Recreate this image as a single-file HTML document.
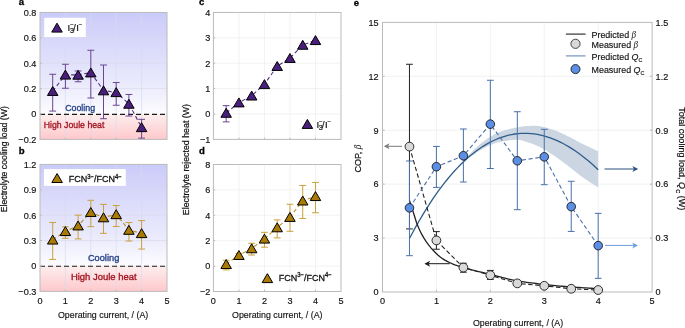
<!DOCTYPE html><html><head><meta charset="utf-8"><style>html,body{margin:0;padding:0;background:#fff;width:685px;height:328px;overflow:hidden}svg{display:block}text{font-family:"Liberation Sans", sans-serif}</style></head><body>
<svg width="685" height="328" viewBox="0 0 685 328" style="will-change:transform">
<defs>
<linearGradient id="ga" x1="0" y1="12.45" x2="0" y2="139.40" gradientUnits="userSpaceOnUse"><stop offset="0" stop-color="#cbcbfa"/><stop offset="0.5760" stop-color="#ebebfc"/><stop offset="0.8000" stop-color="#fcfcff"/><stop offset="0.8000" stop-color="#fdeeee"/><stop offset="1" stop-color="#fec8cc"/></linearGradient>
<linearGradient id="gb" x1="0" y1="164.40" x2="0" y2="291.40" gradientUnits="userSpaceOnUse"><stop offset="0" stop-color="#cbcbfa"/><stop offset="0.5760" stop-color="#ebebfc"/><stop offset="0.8000" stop-color="#fcfcff"/><stop offset="0.8000" stop-color="#fdeeee"/><stop offset="1" stop-color="#fec8cc"/></linearGradient>
</defs>
<rect x="40.00" y="12.45" width="127.00" height="126.95" fill="url(#ga)"/>
<line x1="65.40" y1="12.45" x2="65.40" y2="139.40" stroke="#dadaee" stroke-width="0.7"/>
<line x1="90.80" y1="12.45" x2="90.80" y2="139.40" stroke="#dadaee" stroke-width="0.7"/>
<line x1="116.20" y1="12.45" x2="116.20" y2="139.40" stroke="#dadaee" stroke-width="0.7"/>
<line x1="141.60" y1="12.45" x2="141.60" y2="139.40" stroke="#dadaee" stroke-width="0.7"/>
<line x1="40.00" y1="37.84" x2="167.00" y2="37.84" stroke="#dadaee" stroke-width="0.7"/>
<line x1="40.00" y1="63.23" x2="167.00" y2="63.23" stroke="#dadaee" stroke-width="0.7"/>
<line x1="40.00" y1="88.62" x2="167.00" y2="88.62" stroke="#dadaee" stroke-width="0.7"/>
<line x1="40.00" y1="114.4" x2="166.00" y2="114.4" stroke="#1a1a1a" stroke-width="1.1" stroke-dasharray="5 3"/>
<rect x="40.00" y="12.45" width="127.00" height="126.95" fill="none" stroke="#bbbbbb" stroke-width="1"/>
<path d="M65.40 139.40v-1.8M90.80 139.40v-1.8M116.20 139.40v-1.8M141.60 139.40v-1.8M40.00 37.84h1.8M40.00 63.23h1.8M40.00 88.62h1.8M40.00 114.01h1.8" stroke="#bbbbbb" stroke-width="1" fill="none"/>
<path d="M52.70 91.16L65.40 74.78L78.10 74.91L90.80 72.62L103.50 90.52L116.20 92.30L128.90 103.92L141.60 127.34" stroke="#55328a" stroke-width="1.1" stroke-dasharray="4 2.6" fill="none"/>
<path d="M52.70 111.09V74.27M49.30 111.09h6.8M49.30 74.27h6.8" stroke="#6a4592" stroke-width="1" fill="none"/>
<path d="M65.40 88.24V64.25M62.00 88.24h6.8M62.00 64.25h6.8" stroke="#6a4592" stroke-width="1" fill="none"/>
<path d="M78.10 81.76V70.97M74.70 81.76h6.8M74.70 70.97h6.8" stroke="#6a4592" stroke-width="1" fill="none"/>
<path d="M90.80 98.01V50.28M87.40 98.01h6.8M87.40 50.28h6.8" stroke="#6a4592" stroke-width="1" fill="none"/>
<path d="M103.50 118.71V65.01M100.10 118.71h6.8M100.10 65.01h6.8" stroke="#6a4592" stroke-width="1" fill="none"/>
<path d="M116.20 105.25V82.53M112.80 105.25h6.8M112.80 82.53h6.8" stroke="#6a4592" stroke-width="1" fill="none"/>
<path d="M128.90 116.04V94.46M125.50 116.04h6.8M125.50 94.46h6.8" stroke="#6a4592" stroke-width="1" fill="none"/>
<path d="M141.60 138.13V119.34M138.20 138.13h6.8M138.20 119.34h6.8" stroke="#6a4592" stroke-width="1" fill="none"/>
<path d="M52.70 86.51L57.95 95.46L47.45 95.46Z" fill="#4a1f7c" stroke="#000" stroke-width="1" stroke-linejoin="miter"/>
<path d="M65.40 70.13L70.65 79.08L60.15 79.08Z" fill="#4a1f7c" stroke="#000" stroke-width="1" stroke-linejoin="miter"/>
<path d="M78.10 70.26L83.35 79.21L72.85 79.21Z" fill="#4a1f7c" stroke="#000" stroke-width="1" stroke-linejoin="miter"/>
<path d="M90.80 67.97L96.05 76.92L85.55 76.92Z" fill="#4a1f7c" stroke="#000" stroke-width="1" stroke-linejoin="miter"/>
<path d="M103.50 85.87L108.75 94.82L98.25 94.82Z" fill="#4a1f7c" stroke="#000" stroke-width="1" stroke-linejoin="miter"/>
<path d="M116.20 87.65L121.45 96.60L110.95 96.60Z" fill="#4a1f7c" stroke="#000" stroke-width="1" stroke-linejoin="miter"/>
<path d="M128.90 99.27L134.15 108.22L123.65 108.22Z" fill="#4a1f7c" stroke="#000" stroke-width="1" stroke-linejoin="miter"/>
<path d="M141.60 122.69L146.85 131.64L136.35 131.64Z" fill="#4a1f7c" stroke="#000" stroke-width="1" stroke-linejoin="miter"/>
<rect x="40.00" y="164.40" width="127.00" height="127.00" fill="url(#gb)"/>
<line x1="65.40" y1="164.40" x2="65.40" y2="291.40" stroke="#dadaee" stroke-width="0.7"/>
<line x1="90.80" y1="164.40" x2="90.80" y2="291.40" stroke="#dadaee" stroke-width="0.7"/>
<line x1="116.20" y1="164.40" x2="116.20" y2="291.40" stroke="#dadaee" stroke-width="0.7"/>
<line x1="141.60" y1="164.40" x2="141.60" y2="291.40" stroke="#dadaee" stroke-width="0.7"/>
<line x1="40.00" y1="189.80" x2="167.00" y2="189.80" stroke="#dadaee" stroke-width="0.7"/>
<line x1="40.00" y1="215.20" x2="167.00" y2="215.20" stroke="#dadaee" stroke-width="0.7"/>
<line x1="40.00" y1="240.60" x2="167.00" y2="240.60" stroke="#dadaee" stroke-width="0.7"/>
<line x1="40.00" y1="266.2" x2="166.00" y2="266.2" stroke="#1a1a1a" stroke-width="1.1" stroke-dasharray="5 3"/>
<rect x="40.00" y="164.40" width="127.00" height="127.00" fill="none" stroke="#bbbbbb" stroke-width="1"/>
<path d="M65.40 291.40v-1.8M90.80 291.40v-1.8M116.20 291.40v-1.8M141.60 291.40v-1.8M40.00 189.80h1.8M40.00 215.20h1.8M40.00 240.60h1.8M40.00 266.00h1.8" stroke="#bbbbbb" stroke-width="1" fill="none"/>
<path d="M52.70 239.75L65.40 231.29L78.10 225.61L90.80 212.15L103.50 217.49L116.20 214.35L128.90 230.02L141.60 233.32" stroke="#bb9228" stroke-width="1.1" stroke-dasharray="4 2.6" fill="none"/>
<path d="M52.70 259.40V222.48M49.30 259.40h6.8M49.30 222.48h6.8" stroke="#c9a13c" stroke-width="1" fill="none"/>
<path d="M65.40 238.31V226.80M62.00 238.31h6.8M62.00 226.80h6.8" stroke="#c9a13c" stroke-width="1" fill="none"/>
<path d="M78.10 238.91V215.12M74.70 238.91h6.8M74.70 215.12h6.8" stroke="#c9a13c" stroke-width="1" fill="none"/>
<path d="M90.80 226.63V200.30M87.40 226.63h6.8M87.40 200.30h6.8" stroke="#c9a13c" stroke-width="1" fill="none"/>
<path d="M103.50 233.32V204.36M100.10 233.32h6.8M100.10 204.36h6.8" stroke="#c9a13c" stroke-width="1" fill="none"/>
<path d="M116.20 226.55V205.55M112.80 226.55h6.8M112.80 205.55h6.8" stroke="#c9a13c" stroke-width="1" fill="none"/>
<path d="M128.90 241.02V222.48M125.50 241.02h6.8M125.50 222.48h6.8" stroke="#c9a13c" stroke-width="1" fill="none"/>
<path d="M141.60 249.07V220.62M138.20 249.07h6.8M138.20 220.62h6.8" stroke="#c9a13c" stroke-width="1" fill="none"/>
<path d="M52.70 235.10L57.95 244.05L47.45 244.05Z" fill="#a97a06" stroke="#000" stroke-width="1" stroke-linejoin="miter"/>
<path d="M65.40 226.64L70.65 235.59L60.15 235.59Z" fill="#a97a06" stroke="#000" stroke-width="1" stroke-linejoin="miter"/>
<path d="M78.10 220.96L83.35 229.91L72.85 229.91Z" fill="#a97a06" stroke="#000" stroke-width="1" stroke-linejoin="miter"/>
<path d="M90.80 207.50L96.05 216.45L85.55 216.45Z" fill="#a97a06" stroke="#000" stroke-width="1" stroke-linejoin="miter"/>
<path d="M103.50 212.84L108.75 221.79L98.25 221.79Z" fill="#a97a06" stroke="#000" stroke-width="1" stroke-linejoin="miter"/>
<path d="M116.20 209.70L121.45 218.65L110.95 218.65Z" fill="#a97a06" stroke="#000" stroke-width="1" stroke-linejoin="miter"/>
<path d="M128.90 225.37L134.15 234.32L123.65 234.32Z" fill="#a97a06" stroke="#000" stroke-width="1" stroke-linejoin="miter"/>
<path d="M141.60 228.67L146.85 237.62L136.35 237.62Z" fill="#a97a06" stroke="#000" stroke-width="1" stroke-linejoin="miter"/>
<rect x="213.40" y="12.45" width="127.60" height="126.95" fill="#fff"/>
<line x1="238.92" y1="12.45" x2="238.92" y2="139.40" stroke="#ececec" stroke-width="0.7"/>
<line x1="264.44" y1="12.45" x2="264.44" y2="139.40" stroke="#ececec" stroke-width="0.7"/>
<line x1="289.96" y1="12.45" x2="289.96" y2="139.40" stroke="#ececec" stroke-width="0.7"/>
<line x1="315.48" y1="12.45" x2="315.48" y2="139.40" stroke="#ececec" stroke-width="0.7"/>
<line x1="213.40" y1="37.84" x2="341.00" y2="37.84" stroke="#ececec" stroke-width="0.7"/>
<line x1="213.40" y1="63.23" x2="341.00" y2="63.23" stroke="#ececec" stroke-width="0.7"/>
<line x1="213.40" y1="88.62" x2="341.00" y2="88.62" stroke="#ececec" stroke-width="0.7"/>
<line x1="213.40" y1="114.01" x2="341.00" y2="114.01" stroke="#ececec" stroke-width="0.7"/>
<rect x="213.40" y="12.45" width="127.60" height="126.95" fill="none" stroke="#bbbbbb" stroke-width="1"/>
<path d="M238.92 139.40v-1.8M264.44 139.40v-1.8M289.96 139.40v-1.8M315.48 139.40v-1.8M213.40 37.84h1.8M213.40 63.23h1.8M213.40 88.62h1.8M213.40 114.01h1.8" stroke="#bbbbbb" stroke-width="1" fill="none"/>
<path d="M226.16 112.99L238.92 102.58L251.68 95.73L264.44 84.30L277.20 66.15L289.96 58.15L302.72 44.95L315.48 40.25" stroke="#55328a" stroke-width="1.1" stroke-dasharray="4 2.6" fill="none"/>
<path d="M226.16 121.88V105.63M222.76 121.88h6.8M222.76 105.63h6.8" stroke="#6a4592" stroke-width="1" fill="none"/>
<path d="M226.16 108.34L231.41 117.29L220.91 117.29Z" fill="#4a1f7c" stroke="#000" stroke-width="1" stroke-linejoin="miter"/>
<path d="M238.92 97.93L244.17 106.88L233.67 106.88Z" fill="#4a1f7c" stroke="#000" stroke-width="1" stroke-linejoin="miter"/>
<path d="M251.68 91.08L256.93 100.03L246.43 100.03Z" fill="#4a1f7c" stroke="#000" stroke-width="1" stroke-linejoin="miter"/>
<path d="M264.44 79.65L269.69 88.60L259.19 88.60Z" fill="#4a1f7c" stroke="#000" stroke-width="1" stroke-linejoin="miter"/>
<path d="M277.20 61.50L282.45 70.45L271.95 70.45Z" fill="#4a1f7c" stroke="#000" stroke-width="1" stroke-linejoin="miter"/>
<path d="M289.96 53.50L295.21 62.45L284.71 62.45Z" fill="#4a1f7c" stroke="#000" stroke-width="1" stroke-linejoin="miter"/>
<path d="M302.72 40.30L307.97 49.25L297.47 49.25Z" fill="#4a1f7c" stroke="#000" stroke-width="1" stroke-linejoin="miter"/>
<path d="M315.48 35.60L320.73 44.55L310.23 44.55Z" fill="#4a1f7c" stroke="#000" stroke-width="1" stroke-linejoin="miter"/>
<line x1="238.92" y1="164.50" x2="238.92" y2="291.50" stroke="#ececec" stroke-width="0.7"/>
<line x1="264.44" y1="164.50" x2="264.44" y2="291.50" stroke="#ececec" stroke-width="0.7"/>
<line x1="289.96" y1="164.50" x2="289.96" y2="291.50" stroke="#ececec" stroke-width="0.7"/>
<line x1="315.48" y1="164.50" x2="315.48" y2="291.50" stroke="#ececec" stroke-width="0.7"/>
<line x1="213.40" y1="189.90" x2="341.00" y2="189.90" stroke="#ececec" stroke-width="0.7"/>
<line x1="213.40" y1="215.30" x2="341.00" y2="215.30" stroke="#ececec" stroke-width="0.7"/>
<line x1="213.40" y1="240.70" x2="341.00" y2="240.70" stroke="#ececec" stroke-width="0.7"/>
<line x1="213.40" y1="266.10" x2="341.00" y2="266.10" stroke="#ececec" stroke-width="0.7"/>
<rect x="213.40" y="164.50" width="127.60" height="127.00" fill="none" stroke="#bbbbbb" stroke-width="1"/>
<path d="M238.92 291.50v-1.8M264.44 291.50v-1.8M289.96 291.50v-1.8M315.48 291.50v-1.8M213.40 189.90h1.8M213.40 215.30h1.8M213.40 240.70h1.8M213.40 266.10h1.8" stroke="#bbbbbb" stroke-width="1" fill="none"/>
<path d="M226.16 264.19L238.92 255.18L251.68 248.45L264.44 238.79L277.20 227.49L289.96 217.08L302.72 200.69L315.48 196.25" stroke="#bb9228" stroke-width="1.1" stroke-dasharray="4 2.6" fill="none"/>
<path d="M226.16 269.91V260.26M222.76 269.91h6.8M222.76 260.26h6.8" stroke="#c9a13c" stroke-width="1" fill="none"/>
<path d="M238.92 257.21V253.40M235.52 257.21h6.8M235.52 253.40h6.8" stroke="#c9a13c" stroke-width="1" fill="none"/>
<path d="M251.68 255.05V243.24M248.28 255.05h6.8M248.28 243.24h6.8" stroke="#c9a13c" stroke-width="1" fill="none"/>
<path d="M264.44 247.18V232.32M261.04 247.18h6.8M261.04 232.32h6.8" stroke="#c9a13c" stroke-width="1" fill="none"/>
<path d="M277.20 237.91V219.87M273.80 237.91h6.8M273.80 219.87h6.8" stroke="#c9a13c" stroke-width="1" fill="none"/>
<path d="M289.96 231.30V204.25M286.56 231.30h6.8M286.56 204.25h6.8" stroke="#c9a13c" stroke-width="1" fill="none"/>
<path d="M302.72 218.47V185.45M299.32 218.47h6.8M299.32 185.45h6.8" stroke="#c9a13c" stroke-width="1" fill="none"/>
<path d="M315.48 212.76V182.41M312.08 212.76h6.8M312.08 182.41h6.8" stroke="#c9a13c" stroke-width="1" fill="none"/>
<path d="M226.16 259.55L231.41 268.50L220.91 268.50Z" fill="#a97a06" stroke="#000" stroke-width="1" stroke-linejoin="miter"/>
<path d="M238.92 250.53L244.17 259.48L233.67 259.48Z" fill="#a97a06" stroke="#000" stroke-width="1" stroke-linejoin="miter"/>
<path d="M251.68 243.80L256.93 252.75L246.43 252.75Z" fill="#a97a06" stroke="#000" stroke-width="1" stroke-linejoin="miter"/>
<path d="M264.44 234.14L269.69 243.09L259.19 243.09Z" fill="#a97a06" stroke="#000" stroke-width="1" stroke-linejoin="miter"/>
<path d="M277.20 222.84L282.45 231.79L271.95 231.79Z" fill="#a97a06" stroke="#000" stroke-width="1" stroke-linejoin="miter"/>
<path d="M289.96 212.43L295.21 221.38L284.71 221.38Z" fill="#a97a06" stroke="#000" stroke-width="1" stroke-linejoin="miter"/>
<path d="M302.72 196.04L307.97 205.00L297.47 205.00Z" fill="#a97a06" stroke="#000" stroke-width="1" stroke-linejoin="miter"/>
<path d="M315.48 191.60L320.73 200.55L310.23 200.55Z" fill="#a97a06" stroke="#000" stroke-width="1" stroke-linejoin="miter"/>
<rect x="44.2" y="17.8" width="41.6" height="19.2" fill="#fff"/>
<path d="M57.00 23.15L62.25 32.10L51.75 32.10Z" fill="#4a1f7c" stroke="#000" stroke-width="1" stroke-linejoin="miter"/>
<g transform="translate(67.6,30.6)" fill="#111" stroke="#111" stroke-width="0.2"><text x="0" y="0" font-size="9.6">I</text><text x="2.4" y="2.5" font-size="7.2">3</text><text x="2.7" y="-3.6" font-size="6.2">−</text><text x="5.7" y="0.3" font-size="9.2">/</text><text x="8.6" y="0" font-size="9.6">I</text><text x="11.2" y="-3.6" font-size="6.2">−</text></g>
<rect x="44.0" y="169.1" width="81.8" height="16.8" fill="#fff"/>
<path d="M57.10 173.55L62.35 182.50L51.85 182.50Z" fill="#a97a06" stroke="#000" stroke-width="1" stroke-linejoin="miter"/>
<text transform="translate(68.8,182.4) scale(0.92,1)" font-size="9.8" fill="#111" stroke="#111" stroke-width="0.3">FCN<tspan font-size="6.4" dy="-3.5">3−</tspan><tspan dy="3.5">/FCN</tspan><tspan font-size="6.4" dy="-3.5">4−</tspan></text>
<path d="M307.40 119.45L312.65 128.40L302.15 128.40Z" fill="#4a1f7c" stroke="#000" stroke-width="1" stroke-linejoin="miter"/>
<g transform="translate(316.4,127.5)" fill="#111" stroke="#111" stroke-width="0.2"><text x="0" y="0" font-size="9.6">I</text><text x="2.4" y="2.5" font-size="7.2">3</text><text x="2.7" y="-3.6" font-size="6.2">−</text><text x="5.7" y="0.3" font-size="9.2">/</text><text x="8.6" y="0" font-size="9.6">I</text><text x="11.2" y="-3.6" font-size="6.2">−</text></g>
<path d="M267.40 273.65L272.65 282.60L262.15 282.60Z" fill="#a97a06" stroke="#000" stroke-width="1" stroke-linejoin="miter"/>
<text transform="translate(278.8,280.7) scale(0.92,1)" font-size="9.8" fill="#111" stroke="#111" stroke-width="0.3">FCN<tspan font-size="6.4" dy="-3.5">3−</tspan><tspan dy="3.5">/FCN</tspan><tspan font-size="6.4" dy="-3.5">4−</tspan></text>
<text x="65.20" y="110.60" font-size="9.8" text-anchor="start" fill="#1e3c84" stroke="#1e3c84" stroke-width="0.16" textLength="29.9" lengthAdjust="spacingAndGlyphs" stroke-opacity="0.85" style="stroke-width:0.38px">Cooling</text>
<text x="43.70" y="127.90" font-size="9.8" text-anchor="start" fill="#9e0e1a" stroke="#9e0e1a" stroke-width="0.16" textLength="60.7" lengthAdjust="spacingAndGlyphs" stroke-opacity="0.85" style="stroke-width:0.38px">High Joule heat</text>
<text x="87.90" y="261.20" font-size="9.8" text-anchor="start" fill="#1e3c84" stroke="#1e3c84" stroke-width="0.16" textLength="31.4" lengthAdjust="spacingAndGlyphs" stroke-opacity="0.85" style="stroke-width:0.38px">Cooling</text>
<text x="70.90" y="279.90" font-size="9.8" text-anchor="start" fill="#9e0e1a" stroke="#9e0e1a" stroke-width="0.16" textLength="65.8" lengthAdjust="spacingAndGlyphs" stroke-opacity="0.85" style="stroke-width:0.38px">High Joule heat</text>
<text transform="translate(36.30,15.75) scale(0.97,1)" font-size="9.4" text-anchor="end" fill="#111" stroke="#111" stroke-width="0.16" >0.8</text>
<text transform="translate(36.30,41.14) scale(0.97,1)" font-size="9.4" text-anchor="end" fill="#111" stroke="#111" stroke-width="0.16" >0.6</text>
<text transform="translate(36.30,66.53) scale(0.97,1)" font-size="9.4" text-anchor="end" fill="#111" stroke="#111" stroke-width="0.16" >0.4</text>
<text transform="translate(36.30,91.92) scale(0.97,1)" font-size="9.4" text-anchor="end" fill="#111" stroke="#111" stroke-width="0.16" >0.2</text>
<text transform="translate(36.30,117.31) scale(0.97,1)" font-size="9.4" text-anchor="end" fill="#111" stroke="#111" stroke-width="0.16" >0</text>
<text transform="translate(36.30,142.70) scale(0.97,1)" font-size="9.4" text-anchor="end" fill="#111" stroke="#111" stroke-width="0.16" >−0.2</text>
<text transform="translate(36.30,167.70) scale(0.97,1)" font-size="9.4" text-anchor="end" fill="#111" stroke="#111" stroke-width="0.16" >1.2</text>
<text transform="translate(36.30,193.10) scale(0.97,1)" font-size="9.4" text-anchor="end" fill="#111" stroke="#111" stroke-width="0.16" >0.9</text>
<text transform="translate(36.30,218.50) scale(0.97,1)" font-size="9.4" text-anchor="end" fill="#111" stroke="#111" stroke-width="0.16" >0.6</text>
<text transform="translate(36.30,243.90) scale(0.97,1)" font-size="9.4" text-anchor="end" fill="#111" stroke="#111" stroke-width="0.16" >0.3</text>
<text transform="translate(36.30,269.30) scale(0.97,1)" font-size="9.4" text-anchor="end" fill="#111" stroke="#111" stroke-width="0.16" >0</text>
<text transform="translate(36.30,294.70) scale(0.97,1)" font-size="9.4" text-anchor="end" fill="#111" stroke="#111" stroke-width="0.16" >−0.3</text>
<text transform="translate(210.30,15.75) scale(0.97,1)" font-size="9.4" text-anchor="end" fill="#111" stroke="#111" stroke-width="0.16" >4</text>
<text transform="translate(210.30,41.14) scale(0.97,1)" font-size="9.4" text-anchor="end" fill="#111" stroke="#111" stroke-width="0.16" >3</text>
<text transform="translate(210.30,66.53) scale(0.97,1)" font-size="9.4" text-anchor="end" fill="#111" stroke="#111" stroke-width="0.16" >2</text>
<text transform="translate(210.30,91.92) scale(0.97,1)" font-size="9.4" text-anchor="end" fill="#111" stroke="#111" stroke-width="0.16" >1</text>
<text transform="translate(210.30,117.31) scale(0.97,1)" font-size="9.4" text-anchor="end" fill="#111" stroke="#111" stroke-width="0.16" >0</text>
<text transform="translate(210.30,142.70) scale(0.97,1)" font-size="9.4" text-anchor="end" fill="#111" stroke="#111" stroke-width="0.16" >−1</text>
<text transform="translate(210.30,167.80) scale(0.97,1)" font-size="9.4" text-anchor="end" fill="#111" stroke="#111" stroke-width="0.16" >8</text>
<text transform="translate(210.30,193.20) scale(0.97,1)" font-size="9.4" text-anchor="end" fill="#111" stroke="#111" stroke-width="0.16" >6</text>
<text transform="translate(210.30,218.60) scale(0.97,1)" font-size="9.4" text-anchor="end" fill="#111" stroke="#111" stroke-width="0.16" >4</text>
<text transform="translate(210.30,244.00) scale(0.97,1)" font-size="9.4" text-anchor="end" fill="#111" stroke="#111" stroke-width="0.16" >2</text>
<text transform="translate(210.30,269.40) scale(0.97,1)" font-size="9.4" text-anchor="end" fill="#111" stroke="#111" stroke-width="0.16" >0</text>
<text transform="translate(210.30,294.80) scale(0.97,1)" font-size="9.4" text-anchor="end" fill="#111" stroke="#111" stroke-width="0.16" >−2</text>
<text transform="translate(40.00,304.00) scale(0.97,1)" font-size="9.4" text-anchor="middle" fill="#111" stroke="#111" stroke-width="0.16" >0</text>
<text transform="translate(65.40,304.00) scale(0.97,1)" font-size="9.4" text-anchor="middle" fill="#111" stroke="#111" stroke-width="0.16" >1</text>
<text transform="translate(90.80,304.00) scale(0.97,1)" font-size="9.4" text-anchor="middle" fill="#111" stroke="#111" stroke-width="0.16" >2</text>
<text transform="translate(116.20,304.00) scale(0.97,1)" font-size="9.4" text-anchor="middle" fill="#111" stroke="#111" stroke-width="0.16" >3</text>
<text transform="translate(141.60,304.00) scale(0.97,1)" font-size="9.4" text-anchor="middle" fill="#111" stroke="#111" stroke-width="0.16" >4</text>
<text transform="translate(167.00,304.00) scale(0.97,1)" font-size="9.4" text-anchor="middle" fill="#111" stroke="#111" stroke-width="0.16" >5</text>
<text transform="translate(213.40,304.00) scale(0.97,1)" font-size="9.4" text-anchor="middle" fill="#111" stroke="#111" stroke-width="0.16" >0</text>
<text transform="translate(238.92,304.00) scale(0.97,1)" font-size="9.4" text-anchor="middle" fill="#111" stroke="#111" stroke-width="0.16" >1</text>
<text transform="translate(264.44,304.00) scale(0.97,1)" font-size="9.4" text-anchor="middle" fill="#111" stroke="#111" stroke-width="0.16" >2</text>
<text transform="translate(289.96,304.00) scale(0.97,1)" font-size="9.4" text-anchor="middle" fill="#111" stroke="#111" stroke-width="0.16" >3</text>
<text transform="translate(315.48,304.00) scale(0.97,1)" font-size="9.4" text-anchor="middle" fill="#111" stroke="#111" stroke-width="0.16" >4</text>
<text transform="translate(341.00,304.00) scale(0.97,1)" font-size="9.4" text-anchor="middle" fill="#111" stroke="#111" stroke-width="0.16" >5</text>
<text x="58.00" y="317.60" font-size="9.8" text-anchor="start" fill="#111" stroke="#111" stroke-width="0.16" textLength="90.3" lengthAdjust="spacingAndGlyphs" >Operating current, / (A)</text>
<text x="232.00" y="317.60" font-size="9.8" text-anchor="start" fill="#111" stroke="#111" stroke-width="0.16" textLength="90.5" lengthAdjust="spacingAndGlyphs" >Operating current, / (A)</text>
<text transform="translate(7.1,159.2) rotate(-90)" font-size="9.8" text-anchor="middle" fill="#111" stroke="#111" stroke-width="0.22" textLength="106.2" lengthAdjust="spacingAndGlyphs">Electrolyte cooling load (W)</text>
<text transform="translate(189.2,159.6) rotate(-90)" font-size="9.8" text-anchor="middle" fill="#111" stroke="#111" stroke-width="0.22" textLength="111.2" lengthAdjust="spacingAndGlyphs">Electrolyte rejected heat (W)</text>
<text x="18.8" y="5.3" font-size="9.6" font-weight="bold" fill="#000" stroke="#000" stroke-width="0.3">a</text>
<text x="18.8" y="154.4" font-size="9.6" font-weight="bold" fill="#000" stroke="#000" stroke-width="0.3">b</text>
<text x="199.0" y="5.2" font-size="9.6" font-weight="bold" fill="#000" stroke="#000" stroke-width="0.3">c</text>
<text x="199.0" y="154.0" font-size="9.6" font-weight="bold" fill="#000" stroke="#000" stroke-width="0.3">d</text>
<text x="353.8" y="5.6" font-size="9.6" font-weight="bold" fill="#000" stroke="#000" stroke-width="0.3">e</text>
<rect x="382.50" y="22.40" width="269.60" height="269.60" fill="#fff"/>
<line x1="436.42" y1="22.40" x2="436.42" y2="292.00" stroke="#ececec" stroke-width="0.7"/>
<line x1="490.34" y1="22.40" x2="490.34" y2="292.00" stroke="#ececec" stroke-width="0.7"/>
<line x1="544.26" y1="22.40" x2="544.26" y2="292.00" stroke="#ececec" stroke-width="0.7"/>
<line x1="598.18" y1="22.40" x2="598.18" y2="292.00" stroke="#ececec" stroke-width="0.7"/>
<line x1="382.50" y1="238.08" x2="652.10" y2="238.08" stroke="#ececec" stroke-width="0.7"/>
<line x1="382.50" y1="184.16" x2="652.10" y2="184.16" stroke="#ececec" stroke-width="0.7"/>
<line x1="382.50" y1="130.24" x2="652.10" y2="130.24" stroke="#ececec" stroke-width="0.7"/>
<line x1="382.50" y1="76.32" x2="652.10" y2="76.32" stroke="#ececec" stroke-width="0.7"/>
<rect x="382.50" y="22.40" width="269.60" height="269.60" fill="none" stroke="#bbbbbb" stroke-width="1"/>
<path d="M436.42 292.00v-2.2M490.34 292.00v-2.2M544.26 292.00v-2.2M598.18 292.00v-2.2M382.50 238.08h2.2M652.10 238.08h-2.2M382.50 184.16h2.2M652.10 184.16h-2.2M382.50 130.24h2.2M652.10 130.24h-2.2M382.50 76.32h2.2M652.10 76.32h-2.2" stroke="#bbbbbb" stroke-width="1" fill="none"/>
<path d="M457.99 167.28L460.36 164.53L462.74 161.83L465.12 159.18L467.49 156.56L469.87 153.92L472.24 151.39L474.62 149.09L477.00 146.94L479.37 144.86L481.75 142.87L484.13 140.99L486.50 139.24L488.88 137.63L491.25 136.18L493.63 134.81L496.01 133.54L498.38 132.41L500.76 131.45L503.13 130.67L505.51 130.00L507.89 129.39L510.26 128.85L512.64 128.35L515.02 127.87L517.39 127.42L519.77 126.94L522.14 126.49L524.52 126.18L526.90 126.04L529.27 125.93L531.65 125.85L534.02 125.81L536.40 125.84L538.78 126.06L541.15 126.46L543.53 126.98L545.91 127.60L548.28 128.27L550.66 128.96L553.03 129.65L555.41 130.50L557.79 131.47L560.16 132.54L562.54 133.67L564.91 134.81L567.29 135.94L569.67 137.11L572.04 138.34L574.42 139.61L576.79 140.89L579.17 142.16L581.55 143.38L583.92 144.55L586.30 145.70L588.68 146.84L591.05 147.96L593.43 149.07L595.80 150.15L598.18 151.22L598.18 187.52L595.80 186.07L593.43 184.57L591.05 183.03L588.68 181.45L586.30 179.83L583.92 178.17L581.55 176.48L579.17 174.70L576.79 172.85L574.42 170.96L572.04 169.06L569.67 167.18L567.29 165.35L564.91 163.56L562.54 161.75L560.16 159.97L557.79 158.21L555.41 156.52L553.03 154.91L550.66 153.40L548.28 151.93L545.91 150.49L543.53 149.10L541.15 147.78L538.78 146.55L536.40 145.43L534.02 144.42L531.65 143.50L529.27 142.65L526.90 141.90L524.52 141.23L522.14 140.52L519.77 139.92L517.39 139.66L515.02 139.72L512.64 139.89L510.26 140.16L507.89 140.49L505.51 140.88L503.13 141.30L500.76 141.73L498.38 142.29L496.01 142.98L493.63 143.77L491.25 144.64L488.88 145.60L486.50 146.72L484.13 148.00L481.75 149.39L479.37 150.85L477.00 152.37L474.62 153.90L472.24 155.44L469.87 157.07L467.49 158.82L465.12 160.70L462.74 162.74L460.36 164.94L457.99 167.28Z" fill="#cbd6e2"/>
<path d="M409.46 238.45L412.66 232.45L415.86 226.65L419.06 221.03L422.25 215.60L425.45 210.36L428.65 205.29L431.85 200.42L435.05 195.72L438.25 191.21L441.45 186.87L444.65 182.72L447.84 178.74L451.04 174.93L454.24 171.31L457.44 167.85L460.64 164.57L463.84 161.46L467.04 158.52L470.23 155.75L473.43 153.14L476.63 150.70L479.83 148.43L483.03 146.32L486.23 144.38L489.43 142.60L492.62 140.97L495.82 139.51L499.02 138.21L502.22 137.06L505.42 136.07L508.62 135.23L511.82 134.54L515.02 134.01L518.21 133.63L521.41 133.40L524.61 133.32L527.81 133.38L531.01 133.60L534.21 133.95L537.41 134.45L540.60 135.10L543.80 135.88L547.00 136.81L550.20 137.87L553.40 139.07L556.60 140.41L559.80 141.89L562.99 143.50L566.19 145.24L569.39 147.11L572.59 149.12L575.79 151.26L578.99 153.52L582.19 155.91L585.39 158.43L588.58 161.07L591.78 163.83L594.98 166.72L598.18 169.73" stroke="#2f5c8a" stroke-width="1.3" fill="none"/>
<path d="M409.46 200.34L411.85 207.80L414.24 215.30L416.63 222.99L419.02 228.81L421.40 233.69L423.79 237.92L426.18 241.64L428.57 244.94L430.96 247.87L433.35 250.52L435.74 253.02L438.13 255.30L440.52 257.28L442.90 258.92L445.29 260.35L447.68 261.63L450.07 262.78L452.46 263.82L454.85 264.78L457.24 265.64L459.63 266.42L462.01 267.15L464.40 267.85L466.79 268.53L469.18 269.18L471.57 269.81L473.96 270.41L476.35 271.01L478.74 271.59L481.13 272.16L483.51 272.74L485.90 273.31L488.29 273.89L490.68 274.47L493.07 275.07L495.46 275.69L497.85 276.32L500.24 276.94L502.63 277.57L505.01 278.18L507.40 278.77L509.79 279.33L512.18 279.86L514.57 280.35L516.96 280.80L519.35 281.20L521.74 281.58L524.13 281.94L526.51 282.29L528.90 282.61L531.29 282.93L533.68 283.23L536.07 283.52L538.46 283.80L540.85 284.07L543.24 284.34L545.63 284.60L548.01 284.86L550.40 285.11L552.79 285.35L555.18 285.59L557.57 285.82L559.96 286.04L562.35 286.25L564.74 286.46L567.12 286.65L569.51 286.84L571.90 287.02L574.29 287.19L576.68 287.36L579.07 287.52L581.46 287.67L583.85 287.82L586.24 287.97L588.62 288.11L591.01 288.24L593.40 288.36L595.79 288.48L598.18 288.59" stroke="#222" stroke-width="1.3" fill="none"/>
<path d="M409.46 228.91V64.28M406.06 228.91h6.8M406.06 64.28h6.8" stroke="#222" stroke-width="1" fill="none"/>
<path d="M436.42 249.22V231.61M433.02 249.22h6.8M433.02 231.61h6.8" stroke="#222" stroke-width="1" fill="none"/>
<path d="M463.38 272.23V263.24M459.98 272.23h6.8M459.98 263.24h6.8" stroke="#222" stroke-width="1" fill="none"/>
<path d="M490.34 279.42V270.43M486.94 279.42h6.8M486.94 270.43h6.8" stroke="#222" stroke-width="1" fill="none"/>
<path d="M409.46 255.69V160.97M406.06 255.69h6.8M406.06 160.97h6.8" stroke="#4a70aa" stroke-width="1" fill="none"/>
<path d="M436.42 187.40V146.42M433.02 187.40h6.8M433.02 146.42h6.8" stroke="#4a70aa" stroke-width="1" fill="none"/>
<path d="M463.38 182.00V128.98M459.98 182.00h6.8M459.98 128.98h6.8" stroke="#4a70aa" stroke-width="1" fill="none"/>
<path d="M490.34 168.52V80.27M486.94 168.52h6.8M486.94 80.27h6.8" stroke="#4a70aa" stroke-width="1" fill="none"/>
<path d="M517.30 209.68V111.73M513.90 209.68h6.8M513.90 111.73h6.8" stroke="#4a70aa" stroke-width="1" fill="none"/>
<path d="M544.26 184.70V129.34M540.86 184.70h6.8M540.86 129.34h6.8" stroke="#4a70aa" stroke-width="1" fill="none"/>
<path d="M571.22 231.43V181.28M567.82 231.43h6.8M567.82 181.28h6.8" stroke="#4a70aa" stroke-width="1" fill="none"/>
<path d="M598.18 278.34V213.35M594.78 278.34h6.8M594.78 213.35h6.8" stroke="#4a70aa" stroke-width="1" fill="none"/>
<path d="M409.46 146.60L436.42 240.42L463.38 267.56L490.34 275.19L517.30 283.37L544.26 285.80L571.22 288.76L598.18 290.02" stroke="#222" stroke-width="1.1" stroke-dasharray="4.4 2.6" fill="none"/>
<path d="M409.46 207.88L436.42 166.73L463.38 155.76L490.34 124.13L517.30 160.79L544.26 156.84L571.22 206.63L598.18 245.63" stroke="#4a70aa" stroke-width="1.1" stroke-dasharray="4.2 2.6" fill="none"/>
<circle cx="409.46" cy="146.60" r="4.4" fill="#d9d9d9" stroke="#1a1a1a" stroke-width="0.9"/>
<circle cx="436.42" cy="240.42" r="4.4" fill="#d9d9d9" stroke="#1a1a1a" stroke-width="0.9"/>
<circle cx="463.38" cy="267.56" r="4.4" fill="#d9d9d9" stroke="#1a1a1a" stroke-width="0.9"/>
<circle cx="490.34" cy="275.19" r="4.4" fill="#d9d9d9" stroke="#1a1a1a" stroke-width="0.9"/>
<circle cx="517.30" cy="283.37" r="4.4" fill="#d9d9d9" stroke="#1a1a1a" stroke-width="0.9"/>
<circle cx="544.26" cy="285.80" r="4.4" fill="#d9d9d9" stroke="#1a1a1a" stroke-width="0.9"/>
<circle cx="571.22" cy="288.76" r="4.4" fill="#d9d9d9" stroke="#1a1a1a" stroke-width="0.9"/>
<circle cx="598.18" cy="290.02" r="4.4" fill="#d9d9d9" stroke="#1a1a1a" stroke-width="0.9"/>
<circle cx="409.46" cy="207.88" r="4.3" fill="#5b8fe6" stroke="#1a1a1a" stroke-width="0.9"/>
<circle cx="436.42" cy="166.73" r="4.3" fill="#5b8fe6" stroke="#1a1a1a" stroke-width="0.9"/>
<circle cx="463.38" cy="155.76" r="4.3" fill="#5b8fe6" stroke="#1a1a1a" stroke-width="0.9"/>
<circle cx="490.34" cy="124.13" r="4.3" fill="#5b8fe6" stroke="#1a1a1a" stroke-width="0.9"/>
<circle cx="517.30" cy="160.79" r="4.3" fill="#5b8fe6" stroke="#1a1a1a" stroke-width="0.9"/>
<circle cx="544.26" cy="156.84" r="4.3" fill="#5b8fe6" stroke="#1a1a1a" stroke-width="0.9"/>
<circle cx="571.22" cy="206.63" r="4.3" fill="#5b8fe6" stroke="#1a1a1a" stroke-width="0.9"/>
<circle cx="598.18" cy="245.63" r="4.3" fill="#5b8fe6" stroke="#1a1a1a" stroke-width="0.9"/>
<line x1="402.00" y1="146.30" x2="386.80" y2="146.30" stroke="#7a7a7a" stroke-width="1"/>
<path d="M383.80 146.30L389.60 143.30L388.00 146.30L389.60 149.30Z" fill="#7a7a7a"/>
<line x1="449.80" y1="263.70" x2="427.40" y2="263.70" stroke="#1a1a1a" stroke-width="1"/>
<path d="M424.40 263.70L430.20 260.70L428.60 263.70L430.20 266.70Z" fill="#1a1a1a"/>
<line x1="604.50" y1="169.00" x2="635.20" y2="169.00" stroke="#2b4f7e" stroke-width="1"/>
<path d="M638.20 169.00L632.40 166.00L634.00 169.00L632.40 172.00Z" fill="#2b4f7e"/>
<line x1="605.00" y1="245.40" x2="635.00" y2="245.40" stroke="#6b9de0" stroke-width="1"/>
<path d="M638.00 245.40L632.20 242.40L633.80 245.40L632.20 248.40Z" fill="#6b9de0"/>
<line x1="565.9" y1="34.1" x2="585.6" y2="34.1" stroke="#333" stroke-width="1.2"/>
<circle cx="575.5" cy="43.8" r="4.6" fill="#d9d9d9" stroke="#333" stroke-width="0.9"/>
<line x1="565.9" y1="55.9" x2="585.6" y2="55.9" stroke="#7393bd" stroke-width="1.2"/>
<circle cx="575.5" cy="69.1" r="4.5" fill="#5b8fe6" stroke="#1a1a1a" stroke-width="0.9"/>
<text transform="translate(591.50,37.60) scale(0.91,1)" font-size="9.8" text-anchor="start" fill="#111" stroke="#111" stroke-width="0.16" >Predicted <tspan font-family="Liberation Serif" font-style="italic" stroke-width="0" font-size="10">β</tspan></text>
<text transform="translate(591.50,47.70) scale(0.91,1)" font-size="9.8" text-anchor="start" fill="#111" stroke="#111" stroke-width="0.16" >Measured <tspan font-family="Liberation Serif" font-style="italic" stroke-width="0" font-size="10">β</tspan></text>
<text transform="translate(591.50,59.50) scale(0.91,1)" font-size="9.8" text-anchor="start" fill="#111" stroke="#111" stroke-width="0.16" >Predicted <tspan font-style="italic">Q</tspan><tspan font-size="6" dy="2.8">C</tspan></text>
<text transform="translate(591.50,72.60) scale(0.91,1)" font-size="9.8" text-anchor="start" fill="#111" stroke="#111" stroke-width="0.16" >Measured <tspan font-style="italic">Q</tspan><tspan font-size="6" dy="2.8">C</tspan></text>
<text transform="translate(378.60,295.30) scale(0.97,1)" font-size="9.4" text-anchor="end" fill="#111" stroke="#111" stroke-width="0.16" >0</text>
<text transform="translate(378.60,241.38) scale(0.97,1)" font-size="9.4" text-anchor="end" fill="#111" stroke="#111" stroke-width="0.16" >3</text>
<text transform="translate(378.60,187.46) scale(0.97,1)" font-size="9.4" text-anchor="end" fill="#111" stroke="#111" stroke-width="0.16" >6</text>
<text transform="translate(378.60,133.54) scale(0.97,1)" font-size="9.4" text-anchor="end" fill="#111" stroke="#111" stroke-width="0.16" >9</text>
<text transform="translate(378.60,79.62) scale(0.97,1)" font-size="9.4" text-anchor="end" fill="#111" stroke="#111" stroke-width="0.16" >12</text>
<text transform="translate(378.60,25.70) scale(0.97,1)" font-size="9.4" text-anchor="end" fill="#111" stroke="#111" stroke-width="0.16" >15</text>
<text transform="translate(655.60,295.30) scale(0.97,1)" font-size="9.4" text-anchor="start" fill="#111" stroke="#111" stroke-width="0.16" >0</text>
<text transform="translate(655.60,241.38) scale(0.97,1)" font-size="9.4" text-anchor="start" fill="#111" stroke="#111" stroke-width="0.16" >0.3</text>
<text transform="translate(655.60,187.46) scale(0.97,1)" font-size="9.4" text-anchor="start" fill="#111" stroke="#111" stroke-width="0.16" >0.6</text>
<text transform="translate(655.60,133.54) scale(0.97,1)" font-size="9.4" text-anchor="start" fill="#111" stroke="#111" stroke-width="0.16" >0.9</text>
<text transform="translate(655.60,79.62) scale(0.97,1)" font-size="9.4" text-anchor="start" fill="#111" stroke="#111" stroke-width="0.16" >1.2</text>
<text transform="translate(655.60,25.70) scale(0.97,1)" font-size="9.4" text-anchor="start" fill="#111" stroke="#111" stroke-width="0.16" >1.5</text>
<text transform="translate(382.50,304.00) scale(0.97,1)" font-size="9.4" text-anchor="middle" fill="#111" stroke="#111" stroke-width="0.16" >0</text>
<text transform="translate(436.42,304.00) scale(0.97,1)" font-size="9.4" text-anchor="middle" fill="#111" stroke="#111" stroke-width="0.16" >1</text>
<text transform="translate(490.34,304.00) scale(0.97,1)" font-size="9.4" text-anchor="middle" fill="#111" stroke="#111" stroke-width="0.16" >2</text>
<text transform="translate(544.26,304.00) scale(0.97,1)" font-size="9.4" text-anchor="middle" fill="#111" stroke="#111" stroke-width="0.16" >3</text>
<text transform="translate(598.18,304.00) scale(0.97,1)" font-size="9.4" text-anchor="middle" fill="#111" stroke="#111" stroke-width="0.16" >4</text>
<text transform="translate(652.10,304.00) scale(0.97,1)" font-size="9.4" text-anchor="middle" fill="#111" stroke="#111" stroke-width="0.16" >5</text>
<text x="472.90" y="326.30" font-size="9.8" text-anchor="start" fill="#111" stroke="#111" stroke-width="0.16" textLength="90.2" lengthAdjust="spacingAndGlyphs" >Operating current, / (A)</text>
<text transform="translate(361.3,158.6) rotate(-90) scale(0.92,1)" font-size="9.8" text-anchor="middle" fill="#111" stroke="#111" stroke-width="0.22">COP, <tspan font-family="Liberation Serif" font-style="italic" stroke-width="0" font-size="10">β</tspan></text>
<text transform="translate(679.0,158.7) rotate(90) scale(0.924,1)" font-size="9.8" text-anchor="middle" fill="#111" stroke="#111" stroke-width="0.22">Total cooling load, <tspan font-style="italic">Q</tspan><tspan font-size="6" dy="2.8">C</tspan><tspan dy="-2.8"> (W)</tspan></text>
</svg></body></html>
